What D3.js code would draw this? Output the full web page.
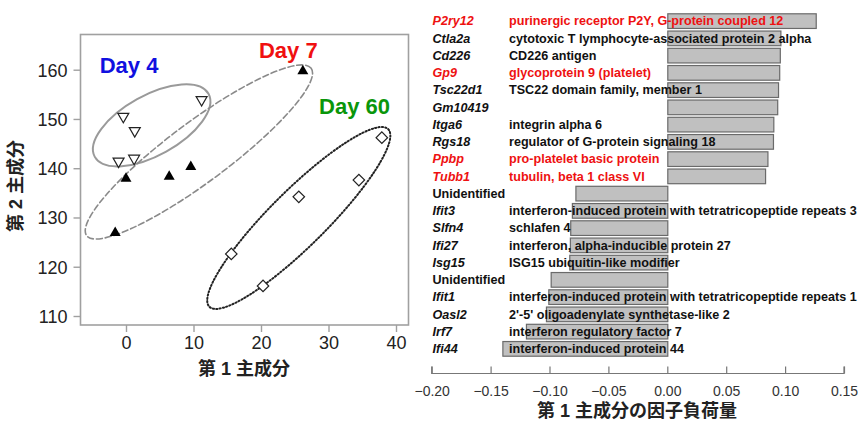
<!DOCTYPE html>
<html>
<head>
<meta charset="utf-8">
<script src="https://cdn.jsdelivr.net/npm/d3@7"></script>
<style>
  body { margin: 0; background: #fff; }
  svg text { font-family: "Liberation Sans", Arial, "Noto Sans CJK JP", sans-serif; }
</style>
</head>
<body>
<svg id="chart" width="858" height="424"></svg>
<script>
// ---- PCA scores (left panel) ----
const day4PC1 = [-0.4, 1.3, -1.1, 1.2, 11.2];
const day4PC2 = [150.3, 147.4, 141.2, 141.8, 153.7];
const day7PC1 = [26.2, 0.0, 6.4, 9.6, -1.6];
const day7PC2 = [159.9, 138.1, 138.5, 140.5, 127.1];
const day60PC1 = [37.9, 34.5, 25.6, 15.6, 20.3];
const day60PC2 = [146.2, 137.6, 134.2, 122.6, 116.1];

const pc1Ticks = [0, 10, 20, 30, 40];
const pc2Ticks = [110, 120, 130, 140, 150, 160];

// ---- PC1 loadings (right panel) ----
const genes = ["P2ry12", "Ctla2a", "Cd226", "Gp9", "Tsc22d1", "Gm10419", "Itga6", "Rgs18",
    "Ppbp", "Tubb1", "Unidentified", "Ifit3", "Slfn4", "Ifi27", "Isg15", "Unidentified ",
    "Ifit1", "Oasl2", "Irf7", "Ifi44"];
const descriptions = [
    "purinergic receptor P2Y, G-protein coupled 12",
    "cytotoxic T lymphocyte-associated protein 2 alpha",
    "CD226 antigen",
    "glycoprotein 9 (platelet)",
    "TSC22 domain family, member 1",
    "",
    "integrin alpha 6",
    "regulator of G-protein signaling 18",
    "pro-platelet basic protein",
    "tubulin, beta 1 class VI",
    "",
    "interferon-induced protein with tetratricopeptide repeats 3",
    "schlafen 4",
    "interferon, alpha-inducible protein 27",
    "ISG15 ubiquitin-like modifier",
    "",
    "interferon-induced protein with tetratricopeptide repeats 1",
    "2'-5' oligoadenylate synthetase-like 2",
    "interferon regulatory factor 7",
    "interferon-induced protein 44"
];
const loadings = [0.126, 0.096, 0.0955, 0.095, 0.094, 0.0933, 0.090, 0.0897, 0.085, 0.083,
    -0.078, -0.081, -0.0824, -0.0827, -0.0832, -0.099, -0.101, -0.103, -0.120, -0.140];
const platelet = ["P2ry12", "Gp9", "Ppbp", "Tubb1"];
const loadingTicks = [-0.20, -0.15, -0.10, -0.05, 0.00, 0.05, 0.10, 0.15];

const svg = d3.select("#chart");

/* ------------------------- left: PCA scatter ------------------------- */
function drawScatter() {
    const box = { left: 80.5, right: 408.5, top: 34.5, bottom: 325 };
    const x = d3.scaleLinear().domain([0, 40]).range([126, 396]);
    const y = d3.scaleLinear().domain([110, 160]).range([316, 69.7]);

    const g = svg.append("g");

    // grouping ellipses (center in data units)
    const groups = [
        { label: "Day 4", color: "#1010e0", lx: -3.9, ly: 159.4, cx: 3.8, cy: 148.7, rx: 65, ry: 30, rot: -29,
          stroke: "#9a9a9a", dash: null, sw: 2 },
        { label: "Day 7", color: "#f01010", lx: 19.7, ly: 162.3, cx: 10.8, cy: 143.3, rx: 140, ry: 30, rot: -36.7,
          stroke: "#8a8a8a", dash: "6,3", sw: 1.6 },
        { label: "Day 60", color: "#0a960a", lx: 28.6, ly: 151, cx: 25.6, cy: 129.9, rx: 126, ry: 28, rot: -44.8,
          stroke: "#222", dash: "1.2,2.2", sw: 2 }
    ];

    g.selectAll(".grp")
        .data(groups)
        .enter()
        .append("ellipse")
        .attr("cx", 0).attr("cy", 0)
        .attr("rx", d => d.rx).attr("ry", d => d.ry)
        .attr("transform", d => `translate(${x(d.cx)},${y(d.cy)}) rotate(${d.rot})`)
        .attr("fill", "none")
        .attr("stroke", d => d.stroke)
        .attr("stroke-width", d => d.sw)
        .attr("stroke-linecap", "round")
        .attr("stroke-dasharray", d => d.dash);

    g.selectAll(".grpLabel")
        .data(groups)
        .enter()
        .append("text")
        .attr("x", d => x(d.lx))
        .attr("y", d => y(d.ly))
        .attr("fill", d => d.color)
        .attr("font-size", 22)
        .attr("font-weight", "bold")
        .text(d => d.label);

    // points
    const tri = d3.symbol().type(d3.symbolTriangle).size(52);
    const dia = d3.symbol().type(d3.symbolSquare).size(66);

    g.selectAll(".d4")
        .data(d3.zip(day4PC1, day4PC2))
        .enter()
        .append("path")
        .attr("d", tri)
        .attr("transform", d => `translate(${x(d[0])},${y(d[1]) - 1}) rotate(180)`)
        .attr("fill", "#fff").attr("stroke", "#222").attr("stroke-width", 1.2);

    g.selectAll(".d7")
        .data(d3.zip(day7PC1, day7PC2))
        .enter()
        .append("path")
        .attr("d", tri)
        .attr("transform", d => `translate(${x(d[0])},${y(d[1]) + 1})`)
        .attr("fill", "#000");

    g.selectAll(".d60")
        .data(d3.zip(day60PC1, day60PC2))
        .enter()
        .append("path")
        .attr("d", dia)
        .attr("transform", d => `translate(${x(d[0])},${y(d[1])}) rotate(45)`)
        .attr("fill", "#fff").attr("stroke", "#222").attr("stroke-width", 1.2);

    // frame
    g.append("rect")
        .attr("x", box.left).attr("y", box.top)
        .attr("width", box.right - box.left).attr("height", box.bottom - box.top)
        .attr("fill", "none").attr("stroke", "#a0a0a0").attr("stroke-width", 1.6);

    const xAxis = g.append("g")
        .attr("transform", `translate(0,${box.bottom})`)
        .call(d3.axisBottom(x).tickValues(pc1Ticks).tickSize(7).tickPadding(4));
    const yAxis = g.append("g")
        .attr("transform", `translate(${box.left},0)`)
        .call(d3.axisLeft(y).tickValues(pc2Ticks).tickSize(7).tickPadding(6));
    [xAxis, yAxis].forEach(a => {
        a.select(".domain").remove();
        a.selectAll("line").attr("stroke", "#a0a0a0").attr("stroke-width", 1.4);
        a.selectAll("text").attr("font-size", 18).attr("fill", "#222")
            .style("font-family", "'Liberation Sans', Arial, sans-serif");
    });
    yAxis.selectAll("text").attr("dy", "0.35em");

    g.append("text")
        .attr("x", 244).attr("y", 375)
        .attr("text-anchor", "middle")
        .attr("font-size", 18).attr("font-weight", "bold").attr("fill", "#222")
        .text("第 1 主成分");

    g.append("text")
        .attr("transform", "translate(22,186) rotate(-90)")
        .attr("text-anchor", "middle")
        .attr("font-size", 18).attr("font-weight", "bold").attr("fill", "#222")
        .text("第 2 主成分");
}

/* ------------------------- right: loadings bars ------------------------- */
function drawLoadings() {
    const x = d3.scaleLinear().domain([-0.20, 0.15]).range([431.7, 844]);
    const y = d3.scaleBand().domain(genes).range([12, 357]).paddingInner(0.15).paddingOuter(0.075);

    const g = svg.append("g");
    const rows = genes.map((gn, i) => ({ gene: gn.trim(), desc: descriptions[i], val: loadings[i], key: gn }));

    g.selectAll(".bar")
        .data(rows)
        .enter()
        .append("rect")
        .attr("x", d => x(Math.min(0, d.val)) + 0.5)
        .attr("y", d => y(d.key) + 0.5)
        .attr("width", d => Math.abs(x(d.val) - x(0)))
        .attr("height", y.bandwidth())
        .attr("fill", "#c0c0c0")
        .attr("stroke", "#6a6a6a")
        .attr("stroke-width", 1.2);

    const col = d => platelet.includes(d.gene) ? "#ee1111" : "#111";

    g.selectAll(".gene")
        .data(rows)
        .enter()
        .append("text")
        .attr("x", 432.5)
        .attr("y", d => y(d.key) + y.bandwidth() / 2 + 4.8)
        .attr("font-size", 12.6)
        .attr("font-weight", "bold")
        .attr("font-style", d => d.gene === "Unidentified" ? "normal" : "italic")
        .attr("fill", col)
        .text(d => d.gene);

    g.selectAll(".desc")
        .data(rows)
        .enter()
        .append("text")
        .attr("x", 509)
        .attr("y", d => y(d.key) + y.bandwidth() / 2 + 4.8)
        .attr("font-size", 12.6)
        .attr("font-weight", "bold")
        .attr("fill", col)
        .text(d => d.desc);

    const axis = g.append("g")
        .attr("transform", "translate(0,373.5)")
        .call(d3.axisTop(x).tickValues(loadingTicks).tickSize(7).tickFormat(d3.format(".2f")));
    axis.select(".domain").attr("stroke", "#777").attr("stroke-width", 1.2)
        .attr("d", `M${x(-0.20)},-7V0H${x(0.15)}V-7`);
    axis.selectAll("line").attr("stroke", "#777").attr("stroke-width", 1.2);
    axis.selectAll("text")
        .attr("y", 22).attr("dy", 0)
        .attr("font-size", 14).attr("fill", "#333")
        .style("font-family", "'Liberation Sans', Arial, sans-serif");

    g.append("text")
        .attr("x", 637).attr("y", 417)
        .attr("text-anchor", "middle")
        .attr("font-size", 18).attr("font-weight", "bold").attr("fill", "#222")
        .text("第 1 主成分の因子負荷量");
}

drawScatter();
drawLoadings();
</script>
</body>
</html>
